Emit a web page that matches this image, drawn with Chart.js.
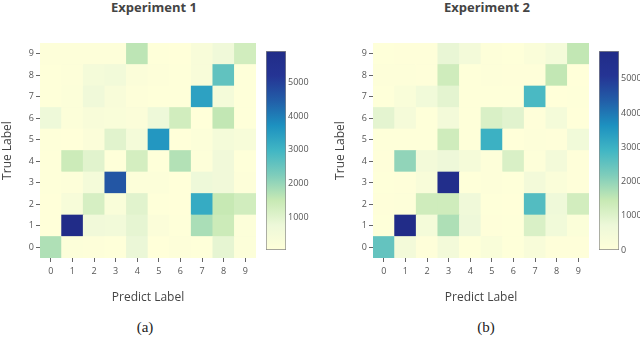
<!DOCTYPE html>
<html>
<head>
<meta charset="utf-8">
<script src="https://cdn.jsdelivr.net/npm/chart.js@4/dist/chart.umd.min.js"></script>
<style>
  html, body { margin: 0; padding: 0; background: #fff; }
  #wrap { position: relative; width: 640px; height: 338px; overflow: hidden; }
  .abs { position: absolute; }
  .title { font: bold 13px "Open Sans", sans-serif; color: #444; text-align: center; width: 200px; line-height: 16px; white-space: nowrap; }
  .cap { font: 15px "Liberation Serif", "DejaVu Serif", serif; color: #222; text-align: center; width: 60px; line-height: 18px; }
</style>
</head>
<body>
<div id="wrap">
  <div class="abs title" style="left:54px; top:-1px;">Experiment 1</div>
  <div class="abs title" style="left:387px; top:-1px;">Experiment 2</div>
  <div class="abs" style="left:0; top:0; width:262px; height:310px;"><canvas id="heat1"></canvas></div>
  <div class="abs" style="left:262px; top:0; width:58px; height:338px;"><canvas id="bar1"></canvas></div>
  <div class="abs" style="left:333px; top:0; width:262px; height:310px;"><canvas id="heat2"></canvas></div>
  <div class="abs" style="left:595px; top:0; width:58px; height:338px;"><canvas id="bar2"></canvas></div>
  <div class="abs cap" style="left:115px; top:318px;">(a)</div>
  <div class="abs cap" style="left:456px; top:318px;">(b)</div>
</div>
<script>
// ---- Data ----
const predictLabels = ['0','1','2','3','4','5','6','7','8','9'];
const trueLabels = ['0','1','2','3','4','5','6','7','8','9'];
const colorbarTicks = [0, 1000, 2000, 3000, 4000, 5000];

// Experiment 1: rows = true label 0..9, columns = predicted label 0..9
const exp1Row0 = [1750, 150, 100, 60, 800, 30, 100, 60, 900, 120];
const exp1Row1 = [30, 5950, 600, 550, 900, 200, 60, 1800, 1400, 120];
const exp1Row2 = [30, 350, 1200, 250, 1000, 40, 30, 3200, 1500, 1300];
const exp1Row3 = [40, 100, 450, 4600, 150, 150, 30, 700, 600, 100];
const exp1Row4 = [50, 1400, 1000, 60, 1250, 50, 1700, 100, 600, 60];
const exp1Row5 = [50, 20, 200, 1000, 450, 3600, 30, 150, 450, 350];
const exp1Row6 = [700, 150, 300, 250, 200, 700, 1300, 30, 1550, 50];
const exp1Row7 = [60, 150, 650, 300, 100, 50, 50, 3400, 450, 60];
const exp1Row8 = [60, 100, 450, 550, 200, 100, 50, 300, 2600, 50];
const exp1Row9 = [100, 100, 100, 100, 1600, 50, 15, 300, 650, 1300];

// Experiment 2
const exp2Row0 = [2500, 500, 60, 500, 30, 250, 30, 300, 60, 60];
const exp2Row1 = [30, 5810, 450, 1700, 700, 60, 30, 1100, 550, 150];
const exp2Row2 = [60, 90, 1300, 1300, 600, 30, 20, 2700, 650, 1250];
const exp2Row3 = [50, 60, 300, 5600, 30, 90, 30, 500, 200, 60];
const exp2Row4 = [60, 2000, 500, 700, 400, 80, 1100, 80, 500, 60];
const exp2Row5 = [30, 30, 30, 1300, 30, 3000, 20, 100, 60, 550];
const exp2Row6 = [900, 400, 30, 500, 30, 1100, 950, 60, 450, 20];
const exp2Row7 = [30, 250, 550, 900, 30, 30, 30, 2800, 20, 50];
const exp2Row8 = [90, 90, 60, 1300, 50, 90, 60, 60, 1500, 0];
const exp2Row9 = [30, 60, 60, 800, 500, 100, 30, 200, 450, 1500];

const exp1 = [exp1Row0, exp1Row1, exp1Row2, exp1Row3, exp1Row4, exp1Row5, exp1Row6, exp1Row7, exp1Row8, exp1Row9];
const exp2 = [exp2Row0, exp2Row1, exp2Row2, exp2Row3, exp2Row4, exp2Row5, exp2Row6, exp2Row7, exp2Row8, exp2Row9];

// ---- Colour scale (YlGnBu, light = low) ----
const scaleStops = [
  [0.000, [255, 255, 217]],
  [0.125, [237, 248, 217]],
  [0.250, [199, 233, 180]],
  [0.375, [127, 205, 187]],
  [0.500, [65, 182, 196]],
  [0.625, [29, 145, 192]],
  [0.750, [34, 94, 168]],
  [0.875, [37, 52, 148]],
  [1.000, [33, 44, 136]]
];
function colorAt(f) {
  f = Math.max(0, Math.min(1, f));
  for (let i = 1; i < scaleStops.length; i++) {
    const [p1, c1] = scaleStops[i];
    const [p0, c0] = scaleStops[i - 1];
    if (f <= p1) {
      const t = (f - p0) / (p1 - p0);
      const c = c0.map((v, k) => Math.round(v + (c1[k] - v) * t));
      return 'rgb(' + c.join(',') + ')';
    }
  }
  const last = scaleStops[scaleStops.length - 1][1];
  return 'rgb(' + last.join(',') + ')';
}

const tickFont = { family: '"Open Sans", sans-serif', size: 9 };
const titleFont = { family: '"Open Sans", sans-serif', size: 12 };
const tickColor = '#555';

function makeHeat(id, matrix) {
  const all = matrix.flat();
  const zmin = Math.min(...all), zmax = Math.max(...all);
  const datasets = matrix.map((row, r) => ({
    label: trueLabels[r],
    data: row.map(() => 1),
    backgroundColor: row.map(v => colorAt((v - zmin) / (zmax - zmin))),
    borderWidth: 0,
    barPercentage: 1,
    categoryPercentage: 1
  }));
  new Chart(document.getElementById(id), {
    type: 'bar',
    data: { labels: predictLabels, datasets },
    options: {
      responsive: true, maintainAspectRatio: false, animation: false,
      layout: { padding: { top: 43, right: 6, left: 0, bottom: 0 } },
      plugins: { legend: { display: false }, tooltip: { enabled: false } },
      scales: {
        x: {
          stacked: true,
          grid: { display: true, drawOnChartArea: false, drawTicks: true, tickLength: 4, offset: false, color: '#666' },
          border: { display: false },
          ticks: { font: tickFont, color: tickColor, padding: 4, maxRotation: 0 },
          title: { display: true, text: 'Predict Label', font: titleFont, color: '#444', padding: { top: 0, bottom: 5 } },
          afterFit: s => { s.height = 52; }
        },
        y: {
          stacked: true, min: 0, max: trueLabels.length,
          grid: { display: true, drawOnChartArea: false, drawTicks: true, tickLength: 4, color: '#666' },
          border: { display: false },
          afterBuildTicks: s => { s.ticks = trueLabels.map((_, i) => ({ value: i + 0.5 })); },
          ticks: { font: tickFont, color: tickColor, padding: 2, callback: (v, i) => trueLabels[i] },
          title: { display: true, text: 'True Label', font: titleFont, color: '#444', padding: { top: 0, bottom: 0 } },
          afterFit: s => { s.width = 40; }
        }
      }
    }
  });
  return { zmin, zmax };
}

function makeBar(id, zmin, zmax) {
  new Chart(document.getElementById(id), {
    type: 'bar',
    data: {
      labels: ['z'],
      datasets: [{
        data: [[zmin, zmax]],
        backgroundColor: ctx => {
          const area = ctx.chart.chartArea;
          if (!area) return '#fff';
          const g = ctx.chart.ctx.createLinearGradient(0, area.bottom, 0, area.top);
          scaleStops.forEach(([p, c]) => g.addColorStop(p, 'rgb(' + c.join(',') + ')'));
          return g;
        },
        borderColor: '#888', borderWidth: 1, borderSkipped: false,
        barPercentage: 1, categoryPercentage: 1
      }]
    },
    options: {
      responsive: true, maintainAspectRatio: false, animation: false,
      layout: { padding: { top: 51, bottom: 88, left: 4, right: 0 } },
      plugins: { legend: { display: false }, tooltip: { enabled: false } },
      scales: {
        x: { display: false },
        y: {
          position: 'right', min: zmin, max: zmax,
          grid: { display: false, drawTicks: false }, border: { display: false },
          afterBuildTicks: s => { s.ticks = colorbarTicks.filter(v => v >= zmin && v <= zmax).map(v => ({ value: v })); },
          ticks: { font: tickFont, color: tickColor, padding: 2, callback: v => String(v) },
          afterFit: s => { s.width = 34; }
        }
      }
    }
  });
}

const r1 = makeHeat('heat1', exp1);
makeBar('bar1', r1.zmin, r1.zmax);
const r2 = makeHeat('heat2', exp2);
makeBar('bar2', r2.zmin, r2.zmax);
</script>
</body>
</html>
